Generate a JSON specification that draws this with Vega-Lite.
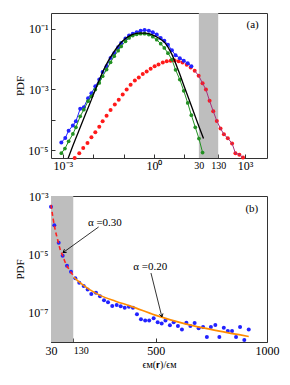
{
  "$schema": "https://vega.github.io/schema/vega-lite/v6.json",
  "padding": {"left": 14, "top": 12, "right": 5, "bottom": 5},
  "bounds": "flush",
  "spacing": 38,
  "config": {
    "font": "Liberation Serif, Times New Roman, serif",
    "view": {"stroke": "#333", "strokeWidth": 1},
    "text": {"font": "Liberation Serif, Times New Roman, serif"},
    "axis": {"domain": false, "grid": false, "tickSize": -4, "tickColor": "#333", "labelFont": "Liberation Serif, Times New Roman, serif", "labelFontSize": 12, "labelColor": "#000", "titleFont": "Liberation Serif, Times New Roman, serif", "titleFontWeight": "normal", "titleFontSize": 11, "titleColor": "#000", "labelOverlap": false, "labelFlush": false}
  },
  "datasets": {
    "bandA": [{"x": 30, "x2": 130, "y": 5.5e-6, "y2": 0.324}],
    "blueA": [
      {"x": 0.000891, "y": 1.78e-5}, {"x": 0.0012, "y": 2.51e-5}, {"x": 0.00155, "y": 4.37e-5}, {"x": 0.00214, "y": 6.46e-5},
      {"x": 0.00269, "y": 8.91e-5}, {"x": 0.00372, "y": 2.29e-4}, {"x": 0.0049, "y": 2.57e-4}, {"x": 0.00676, "y": 5.13e-4},
      {"x": 0.00871, "y": 7.41e-4}, {"x": 0.0117, "y": 1.26e-3}, {"x": 0.0158, "y": 2.09e-3}, {"x": 0.0204, "y": 3.72e-3},
      {"x": 0.0275, "y": 5.75e-3}, {"x": 0.0372, "y": 0.0107}, {"x": 0.049, "y": 0.0155}, {"x": 0.0661, "y": 0.024},
      {"x": 0.0832, "y": 0.0331}, {"x": 0.115, "y": 0.0468}, {"x": 0.151, "y": 0.0589}, {"x": 0.2, "y": 0.0676},
      {"x": 0.269, "y": 0.0759}, {"x": 0.363, "y": 0.0851}, {"x": 0.49, "y": 0.0891}, {"x": 0.676, "y": 0.0851},
      {"x": 0.912, "y": 0.0759}, {"x": 1.23, "y": 0.0631}, {"x": 1.66, "y": 0.049}, {"x": 2.19, "y": 0.0398},
      {"x": 2.88, "y": 0.0295}, {"x": 3.89, "y": 0.0191}, {"x": 5.13, "y": 0.0132}, {"x": 7.08, "y": 0.0105},
      {"x": 9.55, "y": 0.00871}, {"x": 12.9, "y": 0.00724}, {"x": 17.0, "y": 0.00575}
    ],
    "greenA": [
      {"x": 0.000891, "y": 7.94e-6}, {"x": 0.00117, "y": 1.12e-5}, {"x": 0.00155, "y": 1.95e-5}, {"x": 0.00214, "y": 3.39e-5},
      {"x": 0.00269, "y": 5.62e-5}, {"x": 0.00372, "y": 1.29e-4}, {"x": 0.0049, "y": 2.14e-4}, {"x": 0.00676, "y": 4.07e-4},
      {"x": 0.00871, "y": 5.89e-4}, {"x": 0.0117, "y": 9.77e-4}, {"x": 0.0158, "y": 1.62e-3}, {"x": 0.0204, "y": 2.69e-3},
      {"x": 0.0275, "y": 4.47e-3}, {"x": 0.0372, "y": 7.76e-3}, {"x": 0.049, "y": 0.0123}, {"x": 0.0661, "y": 0.0186},
      {"x": 0.0832, "y": 0.0257}, {"x": 0.115, "y": 0.038}, {"x": 0.151, "y": 0.049}, {"x": 0.2, "y": 0.0589},
      {"x": 0.269, "y": 0.0646}, {"x": 0.363, "y": 0.0676}, {"x": 0.49, "y": 0.0676}, {"x": 0.676, "y": 0.0631},
      {"x": 0.912, "y": 0.0537}, {"x": 1.23, "y": 0.0427}, {"x": 1.66, "y": 0.0316}, {"x": 2.19, "y": 0.0229},
      {"x": 2.88, "y": 0.0155}, {"x": 3.89, "y": 0.00955}, {"x": 5.13, "y": 0.00437}, {"x": 7.08, "y": 0.00209},
      {"x": 9.55, "y": 8.91e-4}, {"x": 12.9, "y": 3.55e-4}, {"x": 17.0, "y": 1.41e-4}, {"x": 22.9, "y": 5.62e-5},
      {"x": 30.2, "y": 2.4e-5}, {"x": 39.8, "y": 8.32e-6}
    ],
    "blackA": [
      {"x": 0.00148, "y": 5.25e-6}, {"x": 0.002, "y": 1.17e-5}, {"x": 0.00331, "y": 4.17e-5}, {"x": 0.0055, "y": 1.48e-4},
      {"x": 0.00912, "y": 5.13e-4}, {"x": 0.0151, "y": 1.82e-3}, {"x": 0.0251, "y": 5.75e-3}, {"x": 0.0417, "y": 0.0138},
      {"x": 0.0692, "y": 0.0282}, {"x": 0.115, "y": 0.0468}, {"x": 0.191, "y": 0.0631}, {"x": 0.316, "y": 0.0708},
      {"x": 0.513, "y": 0.0708}, {"x": 0.851, "y": 0.0631}, {"x": 1.41, "y": 0.049}, {"x": 2.34, "y": 0.0331},
      {"x": 3.89, "y": 0.0141}, {"x": 6.46, "y": 3.98e-3}, {"x": 10.7, "y": 1.0e-3}, {"x": 17.8, "y": 2.51e-4},
      {"x": 29.5, "y": 6.31e-5}, {"x": 42.7, "y": 2.4e-5}
    ],
    "redA": [
      {"x": 0.00245, "y": 5.5e-6}, {"x": 0.00347, "y": 7.94e-6}, {"x": 0.00468, "y": 1.17e-5}, {"x": 0.00646, "y": 1.7e-5},
      {"x": 0.00871, "y": 2.63e-5}, {"x": 0.0117, "y": 3.89e-5}, {"x": 0.0158, "y": 5.89e-5}, {"x": 0.0204, "y": 8.91e-5},
      {"x": 0.0275, "y": 1.35e-4}, {"x": 0.0372, "y": 2.09e-4}, {"x": 0.0513, "y": 3.16e-4}, {"x": 0.0692, "y": 4.57e-4},
      {"x": 0.0933, "y": 6.76e-4}, {"x": 0.126, "y": 9.77e-4}, {"x": 0.17, "y": 1.41e-3}, {"x": 0.234, "y": 1.95e-3},
      {"x": 0.316, "y": 2.45e-3}, {"x": 0.427, "y": 3.16e-3}, {"x": 0.575, "y": 3.89e-3}, {"x": 0.776, "y": 4.79e-3},
      {"x": 1.05, "y": 5.75e-3}, {"x": 1.41, "y": 6.61e-3}, {"x": 1.95, "y": 7.59e-3}, {"x": 2.63, "y": 8.32e-3},
      {"x": 3.55, "y": 8.71e-3}, {"x": 4.79, "y": 8.91e-3}, {"x": 6.46, "y": 8.32e-3}, {"x": 8.71, "y": 7.59e-3},
      {"x": 12.0, "y": 6.46e-3}, {"x": 16.2, "y": 5.25e-3}, {"x": 21.9, "y": 4.07e-3}, {"x": 29.5, "y": 2.82e-3},
      {"x": 39.8, "y": 1.58e-3}, {"x": 51.3, "y": 9.77e-4}, {"x": 67.6, "y": 4.17e-4}, {"x": 89.1, "y": 1.91e-4},
      {"x": 117, "y": 9.12e-5}, {"x": 155, "y": 5.13e-5}, {"x": 200, "y": 3.31e-5}, {"x": 269, "y": 2.45e-5},
      {"x": 372, "y": 1.66e-5}, {"x": 479, "y": 7.94e-6}, {"x": 646, "y": 7.08e-6}, {"x": 851, "y": 5.75e-6}
    ],
    "textA": [{"x": 1770, "y": 0.127, "label": "(a)"}],
    "bandB": [{"x": 30, "x2": 130, "y": 1e-8, "y2": 1e-3}],
    "blueB": [
      {"x": 30, "y": 4.27e-4}, {"x": 44.9, "y": 1.0e-4}, {"x": 64.5, "y": 2.51e-5}, {"x": 82.4, "y": 8.91e-6},
      {"x": 101.8, "y": 4.07e-6}, {"x": 119.8, "y": 2.57e-6}, {"x": 139.3, "y": 1.51e-6}, {"x": 157, "y": 1.07e-6},
      {"x": 176.7, "y": 8.32e-7}, {"x": 194.6, "y": 6.31e-7}, {"x": 211, "y": 4.37e-7}, {"x": 232, "y": 4.9e-7},
      {"x": 250, "y": 3.72e-7}, {"x": 268, "y": 2.69e-7}, {"x": 286, "y": 2.29e-7}, {"x": 305, "y": 1.7e-7},
      {"x": 325, "y": 1.86e-7}, {"x": 343, "y": 1.66e-7}, {"x": 361, "y": 1.48e-7}, {"x": 380, "y": 1.62e-7},
      {"x": 398, "y": 1.48e-7}, {"x": 416, "y": 8.91e-8}, {"x": 434, "y": 6.03e-8}, {"x": 453, "y": 5.5e-8},
      {"x": 471, "y": 5.5e-8}, {"x": 491, "y": 6.46e-8}, {"x": 509, "y": 4.79e-8}, {"x": 527, "y": 4.27e-8},
      {"x": 544, "y": 5.5e-8}, {"x": 564, "y": 3.72e-8}, {"x": 581, "y": 4.79e-8}, {"x": 600, "y": 3.55e-8},
      {"x": 618, "y": 2.69e-8}, {"x": 638, "y": 4.57e-8}, {"x": 656, "y": 3.55e-8}, {"x": 675, "y": 4.47e-8},
      {"x": 693, "y": 2.95e-8}, {"x": 713, "y": 3.24e-8}, {"x": 730, "y": 1.48e-8}, {"x": 748, "y": 3.24e-8},
      {"x": 768, "y": 3.8e-8}, {"x": 786, "y": 1.48e-8}, {"x": 806, "y": 3.09e-8}, {"x": 824, "y": 2.4e-8},
      {"x": 843, "y": 2.4e-8}, {"x": 861, "y": 1.48e-8}, {"x": 879, "y": 3.24e-8}, {"x": 898, "y": 1.17e-8},
      {"x": 918, "y": 2.69e-8}
    ],
    "redB": [
      {"x": 30, "y": 5.01e-4}, {"x": 40, "y": 1.58e-4}, {"x": 50, "y": 6.31e-5}, {"x": 60, "y": 3.16e-5},
      {"x": 70, "y": 1.58e-5}, {"x": 80, "y": 1.0e-5}, {"x": 90, "y": 6.31e-6}, {"x": 100, "y": 4.27e-6},
      {"x": 110, "y": 3.16e-6}, {"x": 120, "y": 2.4e-6}, {"x": 130, "y": 1.91e-6}
    ],
    "orangeB": [
      {"x": 132, "y": 1.66e-6}, {"x": 160, "y": 1.07e-6}, {"x": 200, "y": 6.46e-7}, {"x": 255, "y": 3.8e-7},
      {"x": 320, "y": 2.51e-7}, {"x": 390, "y": 1.66e-7}, {"x": 498, "y": 8.32e-8}, {"x": 633, "y": 4.17e-8},
      {"x": 780, "y": 2.4e-8}, {"x": 918, "y": 1.55e-8}
    ],
    "textB": [
      {"x": 932, "y": 3.6e-4, "label": "(b)"},
      {"x": 272, "y": 1.2e-4, "label": "α =0.30"},
      {"x": 476, "y": 3.7e-6, "label": "α =0.20"}
    ],
    "arrow1": [{"x": 244, "y": 8.7e-5, "x2": 83.9, "y2": 1.15e-5}],
    "arrow2": [{"x": 479, "y": 2.3e-6, "x2": 528, "y2": 7.2e-8}]
  },
  "vconcat": [
    {
      "width": 216,
      "height": 145,
      "encoding": {
        "x": {"field": "x", "type": "quantitative",
          "scale": {"type": "log", "domain": [0.000407, 5250]},
          "axis": {"title": null, "values": [0.001, 0.01, 0.1, 1, 10, 30, 100, 130, 1000],
            "labelExpr": "datum.value == 30 ? '30' : datum.value == 130 ? '130' : round(log(datum.value)/LN10) == -3 ? '10⁻³' : round(log(datum.value)/LN10) == 0 ? '10⁰' : round(log(datum.value)/LN10) == 3 ? '10³' : ''",
            "labelFontSize": {"condition": {"test": "datum.value == 30 || datum.value == 130", "value": 10}, "value": 12},
            "labelPadding": 6}},
        "y": {"field": "y", "type": "quantitative",
          "scale": {"type": "log", "domain": [5.5e-6, 0.324]},
          "axis": {"title": "PDF", "values": [0.1, 0.01, 0.001, 0.0001, 0.00001],
            "labelExpr": "round(log(datum.value)/LN10) == -1 ? '10⁻¹' : round(log(datum.value)/LN10) == -3 ? '10⁻³' : round(log(datum.value)/LN10) == -5 ? '10⁻⁵' : ''",
            "labelPadding": 7, "titlePadding": 2}}
      },
      "layer": [
        {"data": {"name": "bandA"}, "mark": {"type": "rect", "color": "#bebebe"},
          "encoding": {"x2": {"field": "x2"}, "y2": {"field": "y2"}}},
        {"data": {"name": "redA"}, "mark": {"type": "point", "filled": true, "size": 16, "color": "#ff1a1a", "opacity": 1}},
        {"data": {"name": "redA"}, "transform": [{"filter": "datum.x >= 20"}],
          "mark": {"type": "line", "color": "#a8307c", "strokeWidth": 1}},
        {"data": {"name": "blueA"}, "mark": {"type": "line", "color": "#2222ff", "strokeWidth": 1,
          "point": {"filled": true, "size": 16, "color": "#2222ff", "opacity": 1}}},
        {"data": {"name": "greenA"}, "mark": {"type": "line", "color": "#229022", "strokeWidth": 1,
          "point": {"filled": true, "size": 14, "color": "#229022", "opacity": 1}}},
        {"data": {"name": "blackA"}, "mark": {"type": "line", "color": "#000", "strokeWidth": 1.3, "interpolate": "monotone", "clip": true}},
        {"data": {"name": "textA"}, "mark": {"type": "text", "fontSize": 11, "color": "#000"},
          "encoding": {"text": {"field": "label"}}}
      ]
    },
    {
      "width": 216,
      "height": 146,
      "encoding": {
        "x": {"field": "x", "type": "quantitative",
          "scale": {"type": "linear", "domain": [30, 1000], "nice": false, "zero": false},
          "axis": {"title": "ϵᴍ(𝐫)/ϵᴍ", "titleFontSize": 10, "titlePadding": 3, "values": [30, 130, 500, 1000], "format": "d",
            "labelFontSize": {"condition": {"test": "datum.value == 130", "value": 10}, "value": 12},
            "labelAlign": {"condition": {"test": "datum.value == 130", "value": "left"}, "value": "center"},
            "labelPadding": 7}},
        "y": {"field": "y", "type": "quantitative",
          "scale": {"type": "log", "domain": [1e-8, 0.001]},
          "axis": {"title": "PDF", "values": [0.001, 0.0001, 0.00001, 0.000001, 1e-7, 1e-8],
            "labelExpr": "round(log(datum.value)/LN10) == -3 ? '10⁻³' : round(log(datum.value)/LN10) == -5 ? '10⁻⁵' : round(log(datum.value)/LN10) == -7 ? '10⁻⁷' : ''",
            "labelPadding": 7, "titlePadding": 2}}
      },
      "layer": [
        {"data": {"name": "bandB"}, "mark": {"type": "rect", "color": "#bebebe"},
          "encoding": {"x2": {"field": "x2"}, "y2": {"field": "y2"}}},
        {"data": {"name": "blueB"}, "mark": {"type": "point", "filled": true, "size": 16, "color": "#2222ff", "opacity": 1}},
        {"data": {"name": "redB"}, "mark": {"type": "line", "color": "#ff2020", "strokeWidth": 1.6, "strokeDash": [4, 3], "interpolate": "monotone"}},
        {"data": {"name": "orangeB"}, "mark": {"type": "line", "color": "#ff8c00", "strokeWidth": 1.6, "interpolate": "monotone"}},
        {"data": {"name": "arrow1"}, "mark": {"type": "rule", "color": "#000", "strokeWidth": 0.8},
          "encoding": {"x2": {"field": "x2"}, "y2": {"field": "y2"}}},
        {"data": {"name": "arrow1"}, "mark": {"type": "point", "shape": "M -0.6 1 L 0 0 L 0.6 1", "filled": false, "color": "#000", "strokeWidth": 0.9, "size": 40, "angle": 234, "opacity": 1},
          "encoding": {"x": {"field": "x2", "type": "quantitative"}, "y": {"field": "y2", "type": "quantitative"}}},
        {"data": {"name": "arrow2"}, "mark": {"type": "rule", "color": "#000", "strokeWidth": 0.8},
          "encoding": {"x2": {"field": "x2"}, "y2": {"field": "y2"}}},
        {"data": {"name": "arrow2"}, "mark": {"type": "point", "shape": "M -0.6 1 L 0 0 L 0.6 1", "filled": false, "color": "#000", "strokeWidth": 0.9, "size": 40, "angle": 166, "opacity": 1},
          "encoding": {"x": {"field": "x2", "type": "quantitative"}, "y": {"field": "y2", "type": "quantitative"}}},
        {"data": {"name": "textB"}, "mark": {"type": "text", "fontSize": 11, "color": "#000"},
          "encoding": {"text": {"field": "label"}}}
      ]
    }
  ]
}
